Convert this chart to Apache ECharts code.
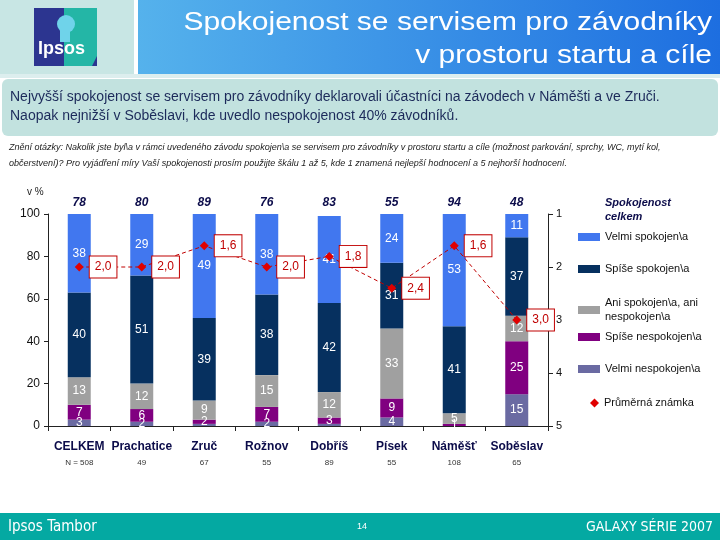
<!DOCTYPE html>
<html><head><meta charset="utf-8">
<script src="https://cdn.jsdelivr.net/npm/echarts/dist/echarts.min.js"></script>
<style>html,body{margin:0;padding:0;background:#fff}#c{width:720px;height:540px}</style>
</head><body><div id="c"></div>
<script>
// ---- data ----
const categories = ['CELKEM','Prachatice','Zruč','Rožnov','Dobříš','Písek','Náměšť','Soběslav'];
const sampleSizes = ['N = 508','49','67','55','89','55','108','65'];
const totalSatisfied = [78,80,89,76,83,55,94,48];
const velmiNespokojen = [3,2,1,2,1,4,0,15];
const spiseNespokojen = [7,6,2,7,3,9,1,25];
const aniSpokojen = [13,12,9,15,12,33,5,12];
const spiseSpokojen = [40,51,39,38,42,31,41,37];
const velmiSpokojen = [38,29,49,38,41,24,53,11];
const prumernaZnamka = [2.0,2.0,1.6,2.0,1.8,2.4,1.6,3.0];
const seriesNames = ['Velmi spokojen\\a','Spíše spokojen\\a','Ani spokojen\\a, ani nespokojen\\a','Spíše nespokojen\\a','Velmi nespokojen\\a','Průměrná známka'];

const NARROW = "'Liberation Sans Narrow','DejaVu Sans Condensed',sans-serif";
const SANS = "'Liberation Sans',Arial,sans-serif";

const chart = echarts.init(document.getElementById('c'), null, {renderer:'canvas'});

function barSeries(name, data, color, minShow){
  return {
    name, type:'bar', stack:'s', data, barWidth:23,
    itemStyle:{color},
    label:{show:true, position:'inside', color:'#fff', fontSize:12, fontFamily:SANS,
      formatter:p => (p.value >= minShow ? String(p.value) : '')},
    emphasis:{disabled:true}
  };
}

const legendTops = [230, 262, 296, 330, 362, 396];
const legends = seriesNames.map((n,i)=>({
  data:[{name:n, icon: i===5 ? 'diamond' : 'rect'}],
  left: i===5 ? 590 : 578, top:legendTops[i], orient:'vertical', padding:0,
  itemWidth: i===5 ? 9 : 22, itemHeight: i===5 ? 9 : 8, selectedMode:false,
  formatter: s => s.replace(', ani ', ', ani\n'),
  textStyle:{fontSize:11, color:'#111', fontFamily:SANS, lineHeight:14}
}));

const option = {
  animation:false,
  backgroundColor:'#fff',
  grid:{left:48, right:172, top:214, bottom:114},
  legend: legends,
  xAxis:[
    {type:'category', data:categories, position:'bottom',
     axisLine:{lineStyle:{color:'#222'}}, axisTick:{show:true, length:5, lineStyle:{color:'#222'}},
     axisLabel:{margin:12, interval:0,
       formatter:(v,i)=>'{a|'+v+'}\n{b|'+sampleSizes[i]+'}',
       rich:{a:{fontSize:12, fontWeight:'bold', color:'#0c0c4a', fontFamily:SANS, lineHeight:18},
             b:{fontSize:8, color:'#333', fontFamily:SANS, lineHeight:14}}}},
    {type:'category', data:totalSatisfied.map(String), position:'top',
     axisLine:{show:false}, axisTick:{show:false},
     axisLabel:{margin:5, interval:0, fontSize:12, fontWeight:'bold', fontStyle:'italic', color:'#0c0c4a', fontFamily:SANS}}
  ],
  yAxis:[
    {type:'value', min:0, max:100, interval:20, position:'left',
     axisLine:{show:true, lineStyle:{color:'#222'}}, axisTick:{show:true, length:4, lineStyle:{color:'#222'}},
     splitLine:{show:false},
     axisLabel:{fontSize:12, color:'#111', fontFamily:SANS, margin:8}},
    {type:'value', min:1, max:5, interval:1, inverse:true, position:'right',
     axisLine:{show:true, lineStyle:{color:'#222'}}, axisTick:{show:true, length:5, lineStyle:{color:'#222'}},
     splitLine:{show:false},
     axisLabel:{fontSize:11, color:'#111', fontFamily:SANS, margin:8}}
  ],
  series:[
    barSeries(seriesNames[4], velmiNespokojen, '#6a6aa2', 2),
    barSeries(seriesNames[3], spiseNespokojen, '#800080', 1),
    barSeries(seriesNames[2], aniSpokojen, '#a0a0a0', 1),
    barSeries(seriesNames[1], spiseSpokojen, '#06305f', 1),
    barSeries(seriesNames[0], velmiSpokojen, '#4177ef', 1),
    {name:seriesNames[5], type:'line', yAxisIndex:1, data:prumernaZnamka, z:10,
     symbol:'diamond', symbolSize:9,
     itemStyle:{color:'#e00000'},
     lineStyle:{color:'#c00000', width:1, type:[4,3]},
     label:{show:true, position:'right', distance:6, color:'#c00000', fontSize:12, fontFamily:SANS,
       backgroundColor:'#fff', borderColor:'#c00000', borderWidth:1, padding:[5,5,4,5],
       formatter:p=>p.value.toFixed(1).replace('.', ',')},
     emphasis:{disabled:true}}
  ],
  graphic:[
    {type:'rect', shape:{x:0,y:0,width:134,height:74}, style:{fill:'#c8e6e4'}, z:-10},
    {type:'rect', shape:{x:138,y:0,width:582,height:74},
     style:{fill:new echarts.graphic.LinearGradient(0,0,1,0,[{offset:0,color:'#55b2ec'},{offset:1,color:'#1d6ee0'}])}, z:-10},
    {type:'rect', shape:{x:0,y:74,width:720,height:4}, style:{fill:'#dceeee'}, z:-10},
    // logo
    {type:'rect', shape:{x:34,y:8,width:63,height:58}, style:{fill:'#2c3590'}, z:1},
    {type:'polygon', shape:{points:[[64,8],[97,8],[97,56],[92,66],[64,66]]}, style:{fill:'#24b6a6'}, z:2},
    {type:'circle', shape:{cx:66,cy:24,r:9}, style:{fill:'#6fd3ea'}, z:3},
    {type:'rect', shape:{x:60,y:30,width:10,height:12}, style:{fill:'#6fd3ea'}, z:3},
    {type:'text', x:38, y:40, style:{text:'Ipsos', fill:'#fff', font:"bold 18px "+SANS}, z:4},
    // title
    {type:'text', x:712, y:23, scaleX:1.2,
     style:{text:'Spokojenost se servisem pro závodníky', fill:'#fff', font:'25px '+SANS, align:'right', verticalAlign:'middle'}, z:5},
    {type:'text', x:712, y:56, scaleX:1.2,
     style:{text:'v prostoru startu a cíle', fill:'#fff', font:'25px '+SANS, align:'right', verticalAlign:'middle'}, z:5},
    // text box
    {type:'rect', shape:{x:2,y:79,width:716,height:57,r:6}, style:{fill:'#c2e2df'}, z:-10},
    {type:'text', x:10, y:97, style:{text:'Nejvyšší spokojenost se servisem pro závodníky deklarovali účastníci na závodech v Náměšti a ve Zruči.', fill:'#1c2a5a', font:'14px '+SANS, verticalAlign:'middle'}},
    {type:'text', x:10, y:116, style:{text:'Naopak nejnižší v Soběslavi, kde uvedlo nespokojenost 40% závodníků.', fill:'#1c2a5a', font:'14px '+SANS, verticalAlign:'middle'}},
    // question
    {type:'text', x:9, y:147, style:{text:'Znění otázky: Nakolik jste byl\\a v rámci uvedeného závodu spokojen\\a se servisem pro závodníky v prostoru startu a cíle (možnost parkování, sprchy, WC, mytí kol,', fill:'#222', font:'italic 9px '+SANS, verticalAlign:'middle'}},
    {type:'text', x:9, y:163, style:{text:'občerstvení)? Pro vyjádření míry Vaší spokojenosti prosím použijte škálu 1 až 5, kde 1 znamená nejlepší hodnocení a 5 nejhorší hodnocení.', fill:'#222', font:'italic 9px '+SANS, verticalAlign:'middle'}},
    {type:'text', x:27, y:192, style:{text:'v %', fill:'#222', font:'10px '+SANS, verticalAlign:'middle'}},
    // legend title
    {type:'text', x:605, y:210, style:{text:'Spokojenost\ncelkem', fill:'#0c0c4a', font:'bold italic 11px '+SANS, lineHeight:14, verticalAlign:'middle'}},
    // footer
    {type:'rect', shape:{x:0,y:513,width:720,height:27}, style:{fill:'#04a9a2'}, z:-10},
    {type:'text', x:8, y:527, style:{text:'Ipsos Tambor', fill:'#fff', font:'15px '+NARROW, verticalAlign:'middle'}},
    {type:'text', x:362, y:527, style:{text:'14', fill:'#fff', font:'9px '+SANS, align:'center', verticalAlign:'middle'}},
    {type:'text', x:713, y:527, style:{text:'GALAXY SÉRIE 2007', fill:'#fff', font:'14px '+NARROW, align:'right', verticalAlign:'middle'}}
  ]
};
chart.setOption(option);
</script></body></html>
